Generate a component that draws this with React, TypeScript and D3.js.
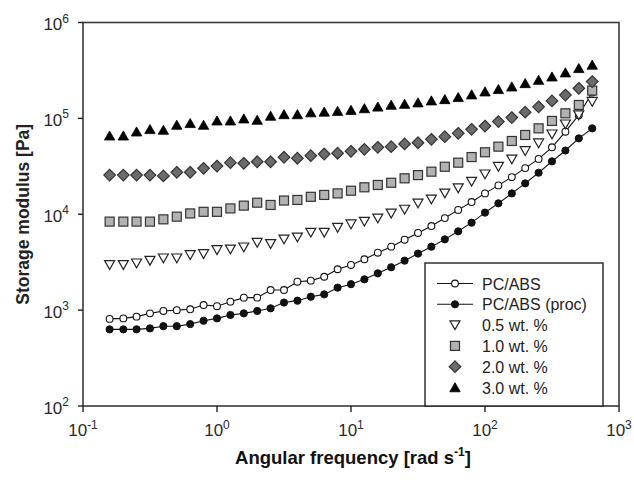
import React from "react";
import * as d3 from "d3";

const freq = [0.158, 0.2, 0.251, 0.316, 0.398, 0.501, 0.631, 0.794, 1, 1.259, 1.585, 1.995, 2.512, 3.162, 3.981, 5.012, 6.31, 7.943, 10, 12.59, 15.85, 19.95, 25.12, 31.62, 39.81, 50.12, 63.1, 79.43, 100, 125.9, 158.5, 199.5, 251.2, 316.2, 398.1, 501.2, 631];

const pcAbs = [810, 820, 855, 925, 980, 1000, 1020, 1130, 1100, 1225, 1350, 1350, 1620, 1620, 1980, 2030, 2230, 2670, 2960, 3390, 3970, 4590, 5430, 6380, 7530, 9120, 11100, 13400, 16500, 20000, 24400, 30300, 37800, 49900, 72600, 108000, 186000];
const pcAbsProc = [630, 630, 630, 645, 680, 680, 715, 775, 820, 890, 925, 980, 1045, 1200, 1255, 1380, 1460, 1715, 1865, 2095, 2420, 2800, 3280, 3890, 4590, 5470, 6640, 8170, 10400, 13000, 16500, 21000, 27100, 35600, 46200, 61900, 78700];
const wt05 = [2960, 2960, 3080, 3280, 3470, 3470, 3760, 3850, 4240, 4300, 4520, 5050, 4900, 5470, 5740, 6430, 6430, 7240, 7870, 8380, 9060, 10200, 11200, 13000, 14300, 16500, 18700, 21900, 26100, 31300, 37400, 45700, 55000, 68200, 86700, 108000, 149000];
const wt10 = [8380, 8380, 8380, 8380, 8850, 9440, 10200, 10600, 10600, 11500, 12300, 13200, 12500, 13900, 14100, 15200, 15900, 16500, 17600, 19100, 20200, 21300, 23700, 25600, 27800, 31300, 34500, 39500, 44300, 50700, 58100, 67100, 78700, 94000, 113000, 138000, 195000];
const wt20 = [25600, 25600, 25600, 25600, 25100, 27400, 27400, 30100, 31800, 34500, 34000, 35300, 35300, 39300, 38400, 40800, 42500, 43300, 45300, 47500, 49900, 50700, 54100, 55700, 60500, 64400, 69800, 76900, 83200, 92500, 102000, 116000, 132000, 152000, 175000, 206000, 242000];
const wt30 = [65900, 65900, 72600, 76900, 75700, 85300, 88900, 85300, 94600, 94600, 99300, 96200, 106000, 110000, 110000, 115000, 117000, 119000, 122000, 127000, 132000, 138000, 141000, 146000, 153000, 158000, 166000, 177000, 190000, 201000, 214000, 232000, 251000, 272000, 300000, 333000, 361000];

const seriesNames = ["PC/ABS", "PC/ABS (proc)", "0.5 wt. %", "1.0 wt. %", "2.0 wt. %", "3.0 wt. %"];
const xTickExps = [-1, 0, 1, 2, 3];
const yTickExps = [2, 3, 4, 5, 6];
const xTitle = "Angular frequency [rad s";
const yTitle = "Storage modulus [Pa]";

const FONT = "'Liberation Sans', Arial, Helvetica, sans-serif";

type Kind = "openCircle" | "filledCircle" | "downTri" | "square" | "diamond" | "upTri";

function Marker({ kind, x, y }: { kind: Kind; x: number; y: number }) {
  const t = `translate(${x},${y})`;
  switch (kind) {
    case "openCircle":
      return <circle cx={x} cy={y} r={3.4} fill="#fff" stroke="#111" strokeWidth={1.1} />;
    case "filledCircle":
      return <circle cx={x} cy={y} r={3.6} fill="#111" stroke="#111" strokeWidth={1} />;
    case "downTri":
      return <path transform={t} d="M-5,-4.3L5,-4.3L0,4.5Z" fill="#fff" stroke="#222" strokeWidth={1.2} />;
    case "square":
      return <rect x={x - 4.5} y={y - 4.5} width={9} height={9} fill="#b2b2b2" stroke="#333" strokeWidth={1.2} />;
    case "diamond":
      return <path transform={t} d="M0,-5.8L5.8,0L0,5.8L-5.8,0Z" fill="#6b6b6b" stroke="#333" strokeWidth={1.2} />;
    case "upTri":
      return <path transform={t} d="M0,-4.8L5.2,4.3L-5.2,4.3Z" fill="#000" stroke="#000" strokeWidth={0.8} />;
  }
}

export default function App() {
  const W = 634, H = 480;
  const x0 = 83, x1 = 619, y0 = 22.5, y1 = 406;
  const x = d3.scaleLog().domain([0.1, 1000]).range([x0, x1]);
  const y = d3.scaleLog().domain([100, 1e6]).range([y1, y0]);

  const series: { name: string; values: number[]; kind: Kind; line: boolean }[] = [
    { name: seriesNames[0], values: pcAbs, kind: "openCircle", line: true },
    { name: seriesNames[1], values: pcAbsProc, kind: "filledCircle", line: true },
    { name: seriesNames[2], values: wt05, kind: "downTri", line: false },
    { name: seriesNames[3], values: wt10, kind: "square", line: false },
    { name: seriesNames[4], values: wt20, kind: "diamond", line: false },
    { name: seriesNames[5], values: wt30, kind: "upTri", line: false },
  ];

  const lineGen = d3
    .line<number>()
    .x((_, i) => x(freq[i]))
    .y((d) => y(d));

  const legX = 425, legY = 263, legW = 178, legH = y1 - 263;
  const rowY0 = 283.5, rowStep = 20.8;

  return (
    <svg width={W} height={H} style={{ position: "absolute", left: 0, top: 0, background: "#fff" }} fontFamily={FONT}>
      <rect x={0} y={0} width={W} height={H} fill="#fff" />
      {/* frame */}
      <rect x={x0} y={y0} width={x1 - x0} height={y1 - y0} fill="none" stroke="#3a3a3a" strokeWidth={1.6} />

      {/* x ticks */}
      {xTickExps.map((e) => {
        const px = x(Math.pow(10, e));
        return (
          <g key={"xt" + e}>
            <line x1={px} x2={px} y1={y1} y2={y1 + 6} stroke="#222" strokeWidth={1.4} />
            <text x={px} y={436} textAnchor="middle" fontSize={17} fill="#2a2a2a">
              10<tspan fontSize={12} dy={-7.5}>{e}</tspan>
            </text>
          </g>
        );
      })}
      {/* y ticks */}
      {yTickExps.map((e) => {
        const py = y(Math.pow(10, e));
        return (
          <g key={"yt" + e}>
            <line x1={x0 - 5} x2={x0} y1={py} y2={py} stroke="#222" strokeWidth={1.4} />
            <text x={69} y={py + 7.5} textAnchor="end" fontSize={17} fill="#2a2a2a">
              10<tspan fontSize={12} dy={-7.5}>{e}</tspan>
            </text>
          </g>
        );
      })}

      {/* axis titles */}
      <text x={(x0 + x1) / 2 + 2} y={464} textAnchor="middle" fontSize={18.5} fontWeight="bold" fill="#111">
        {xTitle}
        <tspan fontSize={12} dy={-8}>-1</tspan>
        <tspan dy={8}>]</tspan>
      </text>
      <text
        transform={`translate(29,${(y0 + y1) / 2}) rotate(-90)`}
        textAnchor="middle"
        fontSize={17.5}
        fontWeight="bold"
        fill="#222"
      >
        {yTitle}
      </text>

      {/* data */}
      {series.map((s) => (
        <g key={s.name}>
          {s.line && <path d={lineGen(s.values) || ""} fill="none" stroke="#111" strokeWidth={1.1} />}
          {s.values.map((v, i) => (
            <Marker key={i} kind={s.kind} x={x(freq[i])} y={y(v)} />
          ))}
        </g>
      ))}

      {/* legend */}
      <rect x={legX} y={legY} width={legW} height={legH} fill="#fff" stroke="#222" strokeWidth={1.4} />
      {series.map((s, i) => {
        const ry = rowY0 + i * rowStep;
        return (
          <g key={"lg" + i}>
            {s.line && <line x1={437} x2={473} y1={ry} y2={ry} stroke="#111" strokeWidth={1.1} />}
            <Marker kind={s.kind} x={455} y={ry} />
            <text x={482} y={ry + 6} fontSize={16} fill="#222">
              {s.name}
            </text>
          </g>
        );
      })}
    </svg>
  );
}
